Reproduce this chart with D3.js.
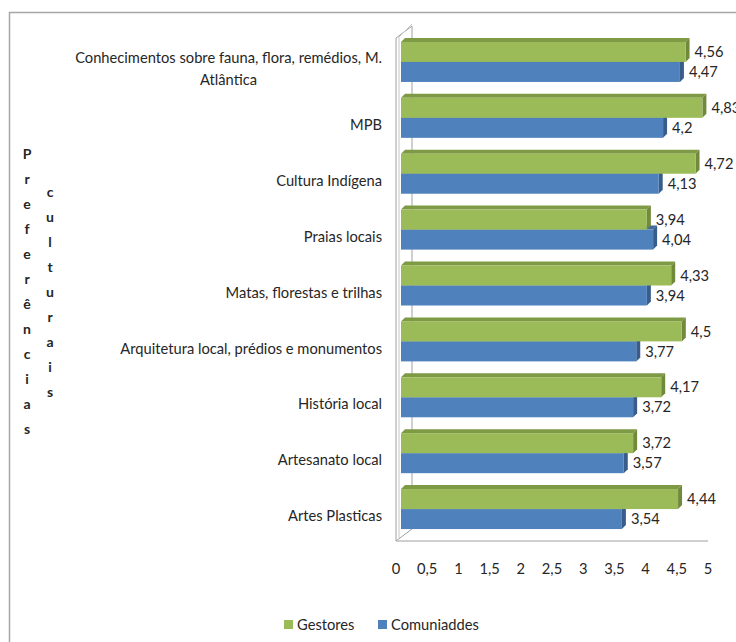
<!DOCTYPE html>
<html>
<head>
<meta charset="utf-8">
<script src="https://cdn.jsdelivr.net/npm/d3@7"></script>
<style>
  body { margin: 0; background: #fff; }
  text { font-family: Lato, "Open Sans", sans-serif; fill: #262626; }
</style>
</head>
<body>
<div id="target"></div>
<script>
const categories = [
  "Conhecimentos sobre fauna, flora, remédios, M.\nAtlântica",
  "MPB",
  "Cultura Indígena",
  "Praias locais",
  "Matas, florestas e trilhas",
  "Arquitetura local, prédios e monumentos",
  "História local",
  "Artesanato local",
  "Artes Plasticas"
];
const gestores = [4.56, 4.83, 4.72, 3.94, 4.33, 4.5, 4.17, 3.72, 4.44];
const comunidades = [4.47, 4.2, 4.13, 4.04, 3.94, 3.77, 3.72, 3.57, 3.54];
const tickValues = [0, 0.5, 1, 1.5, 2, 2.5, 3, 3.5, 4, 4.5, 5];
const seriesNames = ["Gestores", "Comuniaddes"];
const axisTitle = ["Preferências", "culturais"];

function chart() {
  const width = 736,
    height = 642,
    fontSize = 14.7;

  const colors = {
    Gestores: { front: "#9bbb59", top: "#7e9a45", side: "#71893a" },
    Comuniaddes: { front: "#4f81bd", top: "#3f6ba0", side: "#385d8a" }
  };

  // 3d look: bars sit a bit behind the front plane
  const barOff = { x: 5, y: -4 },
    barDepth = { x: 4, y: -4 },
    wallDepth = { x: 16, y: -12 },
    barH = 20;

  const svg = d3.select("#target").append("svg")
    .attr("width", width)
    .attr("height", height);

  const x = d3.scaleLinear()
    .domain([0, 5])
    .range([396, 708]);
  const y = d3.scaleBand()
    .domain(categories)
    .range([38, 541])
    .padding(0);

  // outer chart border (left and top only visible)
  svg.append("path")
    .attr("d", `M9.5,${height} V12.5 H${width}`)
    .attr("fill", "none")
    .attr("stroke", "#a6a6a6")
    .attr("stroke-width", 1.5);

  // walls / floor
  const grid = svg.append("g")
    .attr("fill", "none")
    .attr("stroke", "#a0a0a0")
    .attr("stroke-width", 1);
  const x0 = x(0), yTop = y.range()[0], yBot = y.range()[1];
  grid.append("path")
    .attr("d", `M${x0 + wallDepth.x},${yTop + wallDepth.y} V${yBot + wallDepth.y}`);
  grid.append("path")
    .attr("d", `M${x0},${yBot} V${yTop} L${x0 + wallDepth.x},${yTop + wallDepth.y}`);
  grid.append("path")
    .attr("d", `M${x0 + 3},${yBot - 3} V${yTop - 1} L${x0 + wallDepth.x},${yTop + wallDepth.y - 2}`)
    .attr("stroke", "#c8c8c8");
  grid.append("path")
    .attr("d", `M${x0},${yBot} L${x0 + wallDepth.x},${yBot + wallDepth.y}`);
  grid.append("path")
    .attr("d", `M${x0},${yBot} H${x(5)}`);

  const rows = categories.map((c, i) => {
    return { cat: c, g: gestores[i], c2: comunidades[i] };
  });

  function bar(g, v, yt, col) {
    const xs = x(0) + barOff.x,
      xe = x(v) + barOff.x,
      yb = yt + barH,
      dx = barDepth.x,
      dy = barDepth.y;
    g.append("path")
      .attr("d", `M${xs},${yt} L${xs + dx},${yt + dy} L${xe + dx},${yt + dy} L${xe},${yt} Z`)
      .attr("fill", col.top);
    g.append("path")
      .attr("d", `M${xe},${yt} L${xe + dx},${yt + dy} L${xe + dx},${yb + dy} L${xe},${yb} Z`)
      .attr("fill", col.side);
    g.append("rect")
      .attr("x", xs)
      .attr("y", yt)
      .attr("width", xe - xs)
      .attr("height", barH)
      .attr("fill", col.front);
    g.append("text")
      .attr("x", xe + dx + 5)
      .attr("y", yt + barH / 2)
      .attr("dy", "0.35em")
      .style("font-size", fontSize + "px")
      .text(String(v).replace(".", ","));
  }

  const bars = svg.append("g");
  rows.forEach((d) => {
    const mid = y(d.cat) + y.bandwidth() / 2 + barOff.y;
    const g = bars.append("g");
    bar(g, d.c2, mid, colors.Comuniaddes);
    bar(g, d.g, mid - barH, colors.Gestores);
  });

  // category labels, multi-line labels centred on each other
  const labels = svg.append("g");
  categories.forEach((c) => {
    const lines = c.split("\n");
    const t = labels.append("text")
      .style("font-size", fontSize + "px")
      .attr("text-anchor", "middle");
    lines.forEach((l) => {
      t.append("tspan").text(l);
    });
    const maxW = d3.max(t.selectAll("tspan").nodes(), (n) => n.getComputedTextLength());
    const cx = 382 - maxW / 2;
    const cy = y(c) + y.bandwidth() / 2 + 3;
    const lh = 21.5;
    t.selectAll("tspan")
      .attr("x", cx)
      .attr("y", (d, i) => cy + (i - (lines.length - 1) / 2) * lh)
      .attr("dy", "0.35em");
  });

  // x axis labels
  svg.append("g")
    .selectAll("text")
    .data(tickValues)
    .enter().append("text")
    .attr("x", (d) => x(d))
    .attr("y", 569)
    .attr("dy", "0.35em")
    .attr("text-anchor", "middle")
    .style("font-size", fontSize + "px")
    .text((d) => String(d).replace(".", ","));

  // vertical axis title, letter by letter in two columns
  const titleX = [27, 50], titleMid = 292, step = 25;
  axisTitle.forEach((w, k) => {
    const letters = w.split("");
    svg.append("g")
      .selectAll("text")
      .data(letters)
      .enter().append("text")
      .attr("x", titleX[k])
      .attr("y", (d, i) => titleMid + (i - (letters.length - 1) / 2) * step)
      .attr("dy", "0.35em")
      .attr("text-anchor", "middle")
      .style("font-size", "14px")
      .style("font-weight", "bold")
      .text((d) => d);
  });

  // legend
  const legX = [284, 378];
  const legend = svg.append("g");
  seriesNames.forEach((s, i) => {
    legend.append("rect")
      .attr("x", legX[i])
      .attr("y", 620)
      .attr("width", 9)
      .attr("height", 9)
      .attr("fill", colors[s].front);
    legend.append("text")
      .attr("x", legX[i] + 13)
      .attr("y", 624.5)
      .attr("dy", "0.35em")
      .style("font-size", fontSize + "px")
      .text(s);
  });
}
chart();
</script>
</body>
</html>
